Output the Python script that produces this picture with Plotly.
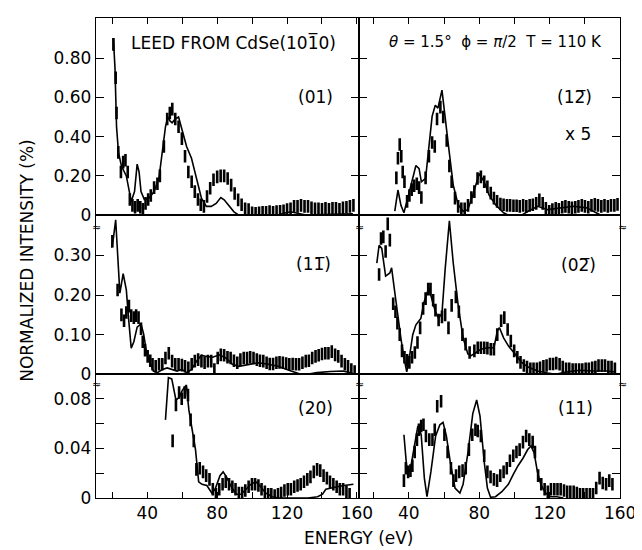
import plotly.graph_objects as go

# ---------------- data ----------------
# (01) panel
t01_e = [20.6, 21.5, 22.4, 23.5, 25.2, 28, 30.8, 32.7, 34.2, 35.3,
         36.4, 38.3, 41, 43.9, 46.7, 48.6, 50.4, 51.7, 53, 54.2,
         56, 57.9, 59.8, 62.5, 65.3, 68.2, 71, 73.8, 76.6, 79.4,
         82.1, 84, 86.8, 89.6, 92.4, 100, 110, 114.8, 118, 122,
         126, 131.6, 140, 150, 157.7]
t01_i = [0.90, 0.75, 0.45, 0.32, 0.25, 0.20, 0.07, 0.12, 0.26, 0.22,
         0.12, 0.08, 0.087, 0.12, 0.19, 0.32, 0.45, 0.50, 0.48, 0.47,
         0.49, 0.50, 0.44, 0.35, 0.29, 0.19, 0.087, 0.045, 0.045, 0.06,
         0.09, 0.078, 0.045, 0.017, 0.0, 0.0, 0.0, 0.0, 0.01, 0.017,
         0.01, 0.0, 0.003, 0.005, 0.007]
e01_e = [20.6, 21.9, 22.4, 23.4, 24.9, 26.2, 27.5, 28.8, 30, 31.5,
         33, 34.5, 36, 37.5, 39, 40.5, 42, 43.9, 45.8, 47.2,
         49.5, 51.4, 52.9, 54.3, 56, 57.9, 59.8, 61.6, 63.5, 65.4,
         67.2, 69, 70.6, 72.4, 74.2, 76, 77.9, 80, 82, 84,
         86, 88, 90, 92, 94, 96, 98, 100, 102, 104,
         106, 108, 110, 112, 114, 116, 118, 120, 122, 124,
         126, 128, 130, 132, 134, 136, 138, 140, 142, 144,
         146, 148, 150, 152, 154, 156, 158]
e01_i = [0.87, 0.70, 0.52, 0.32, 0.22, 0.27, 0.28, 0.22, 0.08, 0.05,
         0.04, 0.05, 0.04, 0.03, 0.06, 0.08, 0.10, 0.14, 0.16, 0.20,
         0.35, 0.49, 0.52, 0.54, 0.49, 0.45, 0.39, 0.30, 0.22, 0.17,
         0.12, 0.08, 0.053, 0.045, 0.095, 0.137, 0.18, 0.195, 0.20, 0.20,
         0.187, 0.153, 0.11, 0.078, 0.053, 0.033, 0.028, 0.012, 0.01, 0.012,
         0.015, 0.015, 0.018, 0.015, 0.018, 0.02, 0.022, 0.028, 0.033, 0.045,
         0.045, 0.05, 0.045, 0.045, 0.037, 0.033, 0.033, 0.03, 0.035, 0.03,
         0.035, 0.035, 0.03, 0.038, 0.04, 0.045, 0.05]

# (1-2) panel, x5
t12_e = [32, 33.8, 35.5, 37.2, 40.3, 42.5, 44, 45.8, 47.1, 49.5,
         51.4, 53.2, 55, 56.5, 58.8, 60, 62.5, 65.2, 68, 70.8,
         73.5, 76.3, 80, 82.8, 85.5, 89.2, 93.8, 96.6, 104, 107.7,
         113.2, 118.8, 126, 133.5, 141, 148.3]
t12_i = [0.02, 0.128, 0.05, 0.012, 0.12, 0.2, 0.253, 0.237, 0.17, 0.187,
         0.353, 0.503, 0.56, 0.545, 0.637, 0.553, 0.353, 0.153, 0.053, 0.02,
         0.028, 0.103, 0.212, 0.17, 0.103, 0.053, 0.012, 0.0, 0.0, 0.02,
         0.045, 0.028, 0.037, 0.045, 0.037, 0.003]
e12_e = [32.9, 33.8, 34.8, 35.7, 36.5, 37.5, 39, 40.3, 41.6, 43,
         44.5, 45.8, 47.1, 49.5, 51.4, 53.2, 54.7, 56, 57.9, 59.5,
         61.5, 63, 64.3, 66.2, 68, 69.8, 71.7, 73.6, 75.5, 77.2,
         79, 80.9, 82.8, 84.6, 86.5, 88.3, 90.1, 92, 93.8, 95.7,
         97.5, 99.4, 101.2, 103, 104.9, 106.7, 108.6, 110.4, 112.3, 114.1,
         116, 117.8, 119.7, 121.5, 123.4, 125.2, 127.1, 128.9, 130.8, 132.6,
         134.5, 136.3, 138.2, 140, 141.9, 143.7, 145.6, 147.4, 149.3, 151.1,
         153, 154.8, 156.7, 158.5]
e12_i = [0.19, 0.29, 0.36, 0.30, 0.22, 0.17, 0.07, 0.10, 0.13, 0.15,
         0.16, 0.14, 0.09, 0.19, 0.30, 0.37, 0.35, 0.49, 0.55, 0.50,
         0.38, 0.25, 0.17, 0.087, 0.045, 0.033, 0.033, 0.05, 0.09, 0.12,
         0.187, 0.195, 0.17, 0.145, 0.112, 0.087, 0.07, 0.057, 0.053, 0.05,
         0.05, 0.048, 0.048, 0.045, 0.05, 0.045, 0.05, 0.053, 0.06, 0.078,
         0.06, 0.035, 0.02, 0.028, 0.035, 0.03, 0.04, 0.045, 0.04, 0.037,
         0.04, 0.045, 0.05, 0.045, 0.04, 0.05, 0.055, 0.05, 0.045, 0.05,
         0.045, 0.05, 0.05, 0.055]

# (1-1) panel
t11b_e = [19.6, 20.6, 21.9, 23.4, 24.3, 26.2, 28, 29.3, 30.8, 32.3,
          34.2, 36.4, 37.9, 39.8, 41.7, 43.5, 45.8, 48.6, 51.4, 54.2,
          57, 59.8, 62.6, 65.4, 68.2, 71, 73.8, 77.5, 81.2, 85,
          88.7, 92.4, 98, 103.6, 109.2, 114.8, 122.3, 127.9, 131.6, 137.2,
          144.7, 152, 157.7]
t11b_i = [0.32, 0.344, 0.39, 0.28, 0.205, 0.254, 0.213, 0.14, 0.066, 0.082,
          0.119, 0.127, 0.102, 0.049, 0.025, 0.008, 0.004, 0.012, 0.016, 0.012,
          0.008, 0.012, 0.004, 0.012, 0.033, 0.048, 0.045, 0.043, 0.049, 0.041,
          0.025, 0.02, 0.025, 0.029, 0.025, 0.02, 0.008, 0.0, 0.0, 0.004,
          0.007, 0.008, 0.002]
e11b_e = [20, 23, 25.2, 26.7, 28, 29.5, 30.8, 32.3, 33.6, 35,
          36.4, 37.4, 38.7, 40.2, 41.7, 43, 44.8, 46.7, 48.6, 50.4,
          52.3, 54.2, 56, 57.9, 59.8, 61.6, 63.5, 65.4, 67.2, 69.1,
          71, 72.8, 74.7, 76.6, 78.4, 80.3, 82.1, 84, 85.9, 87.7,
          89.6, 91.5, 93.3, 95.2, 97.1, 98.9, 100.8, 102.7, 104.5, 106.4,
          108.3, 110.1, 112, 113.9, 115.7, 117.6, 119.5, 121.3, 123.2, 125.1,
          126.9, 128.8, 130.7, 132.5, 134.4, 136.3, 138.1, 140, 141.9, 143.7,
          145.6, 147.5, 149.3, 151.2, 153.1, 154.9, 156.8, 158.7]
e11b_i = [0.336, 0.213, 0.15, 0.135, 0.156, 0.172, 0.148, 0.143, 0.148, 0.143,
          0.115, 0.082, 0.061, 0.045, 0.034, 0.025, 0.02, 0.025, 0.025, 0.041,
          0.053, 0.033, 0.025, 0.025, 0.023, 0.02, 0.016, 0.025, 0.033, 0.037,
          0.033, 0.029, 0.033, 0.033, 0.012, 0.041, 0.049, 0.048, 0.043, 0.041,
          0.034, 0.029, 0.037, 0.041, 0.041, 0.043, 0.041, 0.037, 0.034, 0.033,
          0.029, 0.026, 0.026, 0.029, 0.03, 0.029, 0.027, 0.025, 0.026, 0.025,
          0.025, 0.029, 0.033, 0.034, 0.041, 0.045, 0.048, 0.051, 0.053, 0.053,
          0.057, 0.049, 0.045, 0.033, 0.025, 0.02, 0.012, 0.007]

# (0-2) panel
t02b_e = [21.8, 23.1, 24.6, 26.8, 29.2, 30.2, 32, 33.8, 35.7, 37.5,
          38.8, 40.3, 42.2, 44, 46.8, 48.6, 51.4, 53.2, 55.1, 56.9,
          58.8, 60.6, 63, 65.2, 68, 70.8, 73.5, 75.4, 78.2, 80.9,
          84.6, 88.3, 90.2, 91.4, 93.8, 96.6, 100.3, 104, 107.7, 113.2,
          118.8, 123.4, 129.8, 137.2, 144.6, 152, 157.5]
t02b_i = [0.281, 0.326, 0.318, 0.248, 0.256, 0.269, 0.207, 0.141, 0.084, 0.035,
          0.006, 0.043, 0.1, 0.125, 0.141, 0.182, 0.219, 0.187, 0.158, 0.141,
          0.154, 0.265, 0.388, 0.281, 0.174, 0.092, 0.051, 0.047, 0.055, 0.063,
          0.067, 0.067, 0.108, 0.118, 0.092, 0.071, 0.051, 0.03, 0.018, 0.008,
          0.003, 0.0, 0.006, 0.01, 0.008, 0.008, 0.006]
e02b_e = [23.1, 24.2, 25.5, 26.8, 28, 29.2, 31.1, 32.4, 33.5, 34.8,
          36.1, 37.5, 39, 40.3, 41.8, 43.4, 44.9, 46.4, 48.1, 49.5,
          51, 52.3, 53.8, 55.1, 56.9, 58.8, 60.6, 62.5, 64.3, 66.7,
          68.4, 70.4, 72.2, 74.5, 77.2, 79.1, 80.9, 82.8, 84.6, 86.5,
          88.3, 90.2, 92.4, 94.2, 96.1, 97.9, 99.8, 101.6, 103.4, 105.3,
          107.1, 109, 110.8, 112.7, 114.5, 116.4, 118.2, 120.1, 121.9, 123.7,
          125.6, 127.4, 129.3, 131.1, 133, 134.8, 136.7, 138.5, 140.4, 142.2,
          144.1, 145.9, 147.7, 149.6, 151.4, 153.3, 155.1, 157]
e02b_i = [0.252, 0.343, 0.347, 0.31, 0.38, 0.339, 0.178, 0.158, 0.129, 0.1,
          0.059, 0.043, 0.035, 0.03, 0.043, 0.055, 0.08, 0.117, 0.166, 0.191,
          0.215, 0.215, 0.187, 0.162, 0.137, 0.145, 0.15, 0.117, 0.174, 0.195,
          0.158, 0.1, 0.076, 0.055, 0.059, 0.067, 0.067, 0.067, 0.066, 0.063,
          0.063, 0.1, 0.135, 0.143, 0.113, 0.084, 0.059, 0.043, 0.03, 0.022,
          0.018, 0.014, 0.014, 0.014, 0.016, 0.02, 0.022, 0.026, 0.026, 0.028,
          0.025, 0.018, 0.014, 0.014, 0.012, 0.012, 0.012, 0.012, 0.014, 0.014,
          0.016, 0.018, 0.022, 0.022, 0.022, 0.018, 0.018, 0.014]

# (20) panel
t20_e = [50.4, 52.1, 54, 56.4, 58.2, 60.1, 62.4, 63.8, 65.7, 67.6,
         69.4, 71.3, 74.1, 76.9, 78.8, 81.6, 83.4, 85.3, 88.1, 90.9,
         93.7, 96.5, 99.3, 102.1, 104.9, 107.7, 111.4, 115.1, 132, 137.5,
         140.3, 142.2, 145, 148.7, 152.5, 158]
t20_i = [0.063, 0.097, 0.096, 0.079, 0.081, 0.087, 0.091, 0.071, 0.055, 0.039,
         0.013, 0.011, 0.01, 0.004, 0.007, 0.018, 0.021, 0.017, 0.009, 0.003,
         0.003, 0.007, 0.011, 0.013, 0.009, 0.004, 0.001, 0.0, 0.0, 0.001,
         0.003, 0.007, 0.008, 0.009, 0.01, 0.011]
e20_e = [54.5, 56.4, 58.2, 59.7, 61.4, 63.3, 64.8, 66.6, 68.1, 70,
         71.9, 73.7, 75.6, 77.5, 79.3, 81.2, 83.1, 84.9, 86.8, 88.7,
         90.5, 92.4, 94.3, 96.1, 98, 99.9, 101.7, 103.6, 105.4, 107.3,
         109.2, 111, 112.9, 114.8, 116.6, 118.5, 120.4, 122.2, 124.1, 126,
         127.8, 129.7, 131.6, 133.4, 135.3, 137.2, 139, 140.9, 142.8, 144.6,
         146.5, 148.4, 150.2, 152.1, 154, 155.8]
e20_i = [0.046, 0.075, 0.085, 0.08, 0.085, 0.083, 0.063, 0.046, 0.023, 0.024,
         0.021, 0.018, 0.015, 0.007, 0.003, 0.007, 0.011, 0.013, 0.011, 0.009,
         0.007, 0.004, 0.004, 0.006, 0.009, 0.011, 0.011, 0.01, 0.007, 0.005,
         0.003, 0.003, 0.002, 0.003, 0.004, 0.006, 0.007, 0.007, 0.009, 0.01,
         0.011, 0.013, 0.015, 0.017, 0.021, 0.023, 0.022, 0.018, 0.016, 0.013,
         0.011, 0.009, 0.007, 0.007, 0.005, 0.003]

# (11) panel
t11_e = [37.2, 38.7, 40.6, 42.9, 45.1, 47, 48.8, 50.3, 52.5, 55.2,
         57.6, 59.4, 61.3, 63.5, 66.2, 69, 70.8, 73.6, 76.3, 78.5,
         80.4, 82.8, 84.6, 86.4, 89.2, 92.8, 96.5, 99.3, 102, 104.8,
         107.5, 109.4, 111.2, 113, 114.9, 117.6, 120.4, 124, 127.7]
t11_i = [0.051, 0.026, 0.021, 0.039, 0.058, 0.051, 0.016, 0.001, 0.021, 0.05,
         0.059, 0.061, 0.05, 0.029, 0.008, 0.004, 0.011, 0.037, 0.068, 0.079,
         0.066, 0.029, 0.008, 0.0005, 0.001, 0.005, 0.011, 0.019, 0.026, 0.032,
         0.039, 0.042, 0.036, 0.021, 0.011, 0.004, 0.001, 0.001, 0.0]
e11_e = [37.2, 38.3, 39.6, 40.9, 42, 43.3, 44.6, 45.7, 47, 48.3,
         49.7, 51.6, 53.4, 54.7, 56.1, 58.3, 60.2, 62, 63.9, 65.3,
         66.8, 68.6, 70.5, 72.3, 74.1, 76, 77.8, 79.1, 80.9, 82.8,
         84.6, 86.4, 88.3, 90.1, 91.9, 93.8, 95.6, 97.4, 99.3, 101.1,
         102.9, 104.8, 106.6, 108.4, 110.3, 111.6, 113.4, 115.2, 117.1, 118.9,
         120.7, 122.6, 124.4, 126.2, 128.1, 129.9, 131.7, 133.6, 135.4, 137.2,
         139, 140.9, 142.8, 144.6, 146.4, 148.3, 150.1, 152, 153.8, 155.6]
e11_i = [0.014, 0.024, 0.021, 0.022, 0.026, 0.037, 0.047, 0.055, 0.058, 0.059,
         0.05, 0.047, 0.047, 0.055, 0.074, 0.078, 0.051, 0.037, 0.024, 0.014,
         0.018, 0.021, 0.022, 0.024, 0.039, 0.051, 0.055, 0.054, 0.05, 0.034,
         0.021, 0.017, 0.015, 0.014, 0.018, 0.021, 0.024, 0.03, 0.034, 0.037,
         0.039, 0.045, 0.05, 0.047, 0.045, 0.037, 0.018, 0.011, 0.007, 0.005,
         0.007, 0.007, 0.007, 0.007, 0.006, 0.005, 0.005, 0.005, 0.004, 0.003,
         0.003, 0.003, 0.003, 0.003, 0.008, 0.016, 0.012, 0.011, 0.014, 0.011]

# axis ticks
x_ticks = [20, 40, 60, 80, 100, 120, 140, 160]
x_ticktext = ["", "40", "", "80", "", "120", "", "160"]
y1_ticks = [0, 0.2, 0.4, 0.6, 0.8]
y1_text = ["0", "0.20", "0.40", "0.60", "0.80"]
y2_ticks = [0, 0.1, 0.2, 0.3]
y2_text = ["0", "0.10", "0.20", "0.30"]
y3_ticks = [0, 0.02, 0.04, 0.06, 0.08]
y3_text = ["0", "", "0.04", "", "0.08"]

# ---------------- figure ----------------
W, H = 642, 550
FONT = "DejaVu Sans"


def px_x(p):
    return p / W


def px_y(p):
    return 1 - p / H


xl = [px_x(90), px_x(360)]
xr = [px_x(360), px_x(628)]
yd1 = [px_y(211), px_y(10)]
yd2 = [px_y(373), px_y(211)]
yd3 = [px_y(499), px_y(373)]

fig = go.Figure()

panels = [
    # (theory_e, theory_i, exp_e, exp_i, axis index)
    (t01_e, t01_i, e01_e, e01_i, 1),
    (t12_e, t12_i, e12_e, e12_i, 2),
    (t11b_e, t11b_i, e11b_e, e11b_i, 3),
    (t02b_e, t02b_i, e02b_e, e02b_i, 4),
    (t20_e, t20_i, e20_e, e20_i, 5),
    (t11_e, t11_i, e11_e, e11_i, 6),
]

for te, ti, ee, ei, k in panels:
    xa = "x" if k == 1 else f"x{k}"
    ya = "y" if k == 1 else f"y{k}"
    fig.add_trace(go.Scatter(x=te, y=ti, mode="lines", xaxis=xa, yaxis=ya,
                             line=dict(color="black", width=1.6),
                             showlegend=False, hoverinfo="skip"))
    fig.add_trace(go.Scatter(x=ee, y=ei, mode="markers", xaxis=xa, yaxis=ya,
                             marker=dict(symbol="line-ns", size=9,
                                         line=dict(color="black", width=2.6)),
                             showlegend=False, hoverinfo="skip"))

tickfont = dict(family=FONT, size=17, color="black")
x_common = dict(showline=True, linecolor="black", linewidth=1.1, mirror=True,
                showgrid=False, zeroline=False, tickvals=x_ticks,
                ticklen=6, tickwidth=1.2, tickcolor="black", tickfont=tickfont)
y_common = dict(showline=True, linecolor="black", linewidth=1.1, mirror="ticks",
                showgrid=False, zeroline=False, ticks="inside",
                ticklen=8, tickwidth=1.2, tickcolor="black", tickfont=tickfont)

xr_left = [10.5, 161.2]
xr_right = [11.7, 160.1]
layout = dict(
    width=W, height=H, margin=dict(l=0, r=0, t=0, b=0),
    paper_bgcolor="white", plot_bgcolor="white",
    xaxis=dict(x_common, domain=xl, anchor="y", range=xr_left, side="top",
               ticks="inside", showticklabels=False),
    xaxis2=dict(x_common, domain=xr, anchor="y2", range=xr_right, side="top",
                ticks="inside", showticklabels=False),
    xaxis3=dict(x_common, domain=xl, anchor="y3", range=xr_left, ticks="",
                showticklabels=False),
    xaxis4=dict(x_common, domain=xr, anchor="y4", range=xr_right, ticks="",
                showticklabels=False),
    xaxis5=dict(x_common, domain=xl, anchor="y5", range=xr_left, ticks="inside",
                ticktext=x_ticktext, showticklabels=True),
    xaxis6=dict(x_common, domain=xr, anchor="y6", range=xr_right, ticks="inside",
                ticktext=x_ticktext, showticklabels=True),
    yaxis=dict(y_common, domain=yd1, anchor="x", range=[0, 1.005],
               tickvals=y1_ticks, ticktext=y1_text),
    yaxis2=dict(y_common, domain=yd1, anchor="x2", range=[0, 1.005],
                tickvals=y1_ticks, showticklabels=False),
    yaxis3=dict(y_common, domain=yd2, anchor="x3", range=[0, 0.402],
                tickvals=y2_ticks, ticktext=y2_text),
    yaxis4=dict(y_common, domain=yd2, anchor="x4", range=[0, 0.402],
                tickvals=y2_ticks, showticklabels=False),
    yaxis5=dict(y_common, domain=yd3, anchor="x5", range=[0, 0.0998],
                tickvals=y3_ticks, ticktext=y3_text),
    yaxis6=dict(y_common, domain=yd3, anchor="x6", range=[0, 0.0998],
                tickvals=y3_ticks, showticklabels=False),
)
fig.update_layout(**layout)

NB = "\u00a0"
OV = "\u0305"  # combining overline
ann = [
    ("LEED" + NB + "FROM" + NB + "CdSe(101" + OV + "0)", 124, 35, "left", 17),
    ("<i>\u03b8</i>" + NB + "=" + NB + "1.5\u00b0" + NB * 2 + "\u03d5" + NB + "=" + NB +
     "<i>\u03c0</i>/2" + NB * 2 + "T" + NB + "=" + NB + "110" + NB + "K", 389, 35, "left", 15),
    ("(01)", 315, 91, "center", 17),
    ("(12" + OV + ")", 581, 91, "center", 17),
    ("x" + NB + "5", 585, 128, "center", 17),
    ("(11" + OV + ")", 313, 261, "center", 17),
    ("(02" + OV + ")", 585, 262, "center", 17),
    ("(20)", 315, 407, "center", 17),
    ("(11)", 582, 407, "center", 17),
    ("ENERGY" + NB + "(eV)", 359, 540, "center", 17),
]
for text, x, y, anchor, size in ann:
    fig.add_annotation(text=text, x=px_x(x), y=px_y(y), xref="paper", yref="paper",
                       xanchor=anchor, yanchor="middle", showarrow=False,
                       font=dict(family=FONT, size=size, color="black"))

fig.add_annotation(text="NORMALIZED" + NB + "INTENSITY" + NB + "(%)", x=px_x(20), y=px_y(257),
                   xref="paper", yref="paper", textangle=-90, showarrow=False,
                   xanchor="center", yanchor="middle",
                   font=dict(family=FONT, size=17, color="black"))

# axis-break marks
for bx in (91, 360, 630):
    for by in (224, 383):
        fig.add_annotation(text="\u2248", x=px_x(bx), y=px_y(by), xref="paper",
                           yref="paper", showarrow=False, xanchor="center",
                           yanchor="middle", borderpad=0,
                           font=dict(family=FONT, size=11, color="black"))

fig.write_html("out.html")
